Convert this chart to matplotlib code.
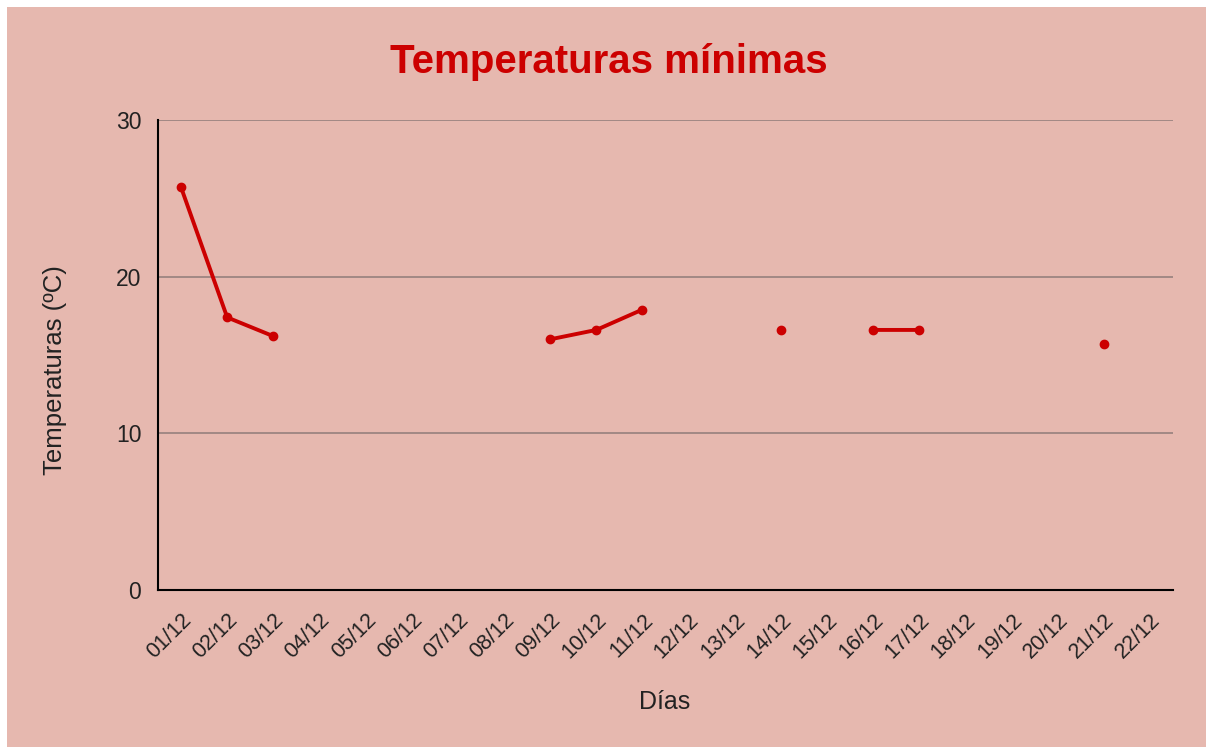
import numpy as np
import matplotlib
matplotlib.use("Agg")
import matplotlib.pyplot as plt
from matplotlib.patches import Rectangle

# datos
dias = ["%02d/12" % d for d in range(1, 23)]
temp_min = [25.7, 17.4, 16.2, np.nan, np.nan, np.nan, np.nan, np.nan,
            16.0, 16.6, 17.9, np.nan, np.nan, 16.6, np.nan, 16.6, 16.6,
            np.nan, np.nan, np.nan, 15.7, np.nan]
y_ticks = [0, 10, 20, 30]

plt.rcParams['font.family'] = ['Liberation Sans', 'DejaVu Sans']

bg = "#e6b8af"
rojo = "#cc0000"

fig = plt.figure(figsize=(12.06, 7.47), dpi=100, facecolor="white")
fig.patches.append(Rectangle((7 / 1206, 0), 1, 1 - 7 / 747, transform=fig.transFigure,
                             facecolor=bg, edgecolor="none", zorder=-1))
ax = fig.add_axes([158 / 1206, 1 - 590 / 747, (1173 - 158) / 1206, (590 - 120) / 747])
ax.set_facecolor(bg)

x = np.arange(len(dias))
ax.plot(x, temp_min, color=rojo, linewidth=2.8, marker="o", markersize=6,
        solid_capstyle="round", zorder=3)

ax.set_xlim(-0.5, len(dias) - 0.5)
ax.set_ylim(0, 30)
ax.set_yticks(y_ticks)
ax.set_xticks(x)
ax.set_xticklabels(dias, rotation=45, ha="right", va="top", rotation_mode="anchor",
                   fontsize=15.5, color="#222222")
ax.tick_params(axis="y", labelsize=16.5, labelcolor="#222222", length=0, pad=12)
ax.tick_params(axis="x", length=0, pad=14)
ax.grid(axis="y", color="#9c8481", linewidth=1.3)
ax.set_axisbelow(True)
for s in ["top", "right"]:
    ax.spines[s].set_visible(False)
for s in ["left", "bottom"]:
    ax.spines[s].set_color("black")
    ax.spines[s].set_linewidth(1.5)

fig.text(55 / 1206, 1 - 370 / 747, "Temperaturas (ºC)", fontsize=18.5, color="#222222",
         ha="center", va="center", rotation=90)
fig.text(665 / 1206, 1 - 702 / 747, "Días", fontsize=18, color="#222222",
         ha="center", va="center")
fig.text(609 / 1206, 1 - 62 / 747, "Temperaturas mínimas", fontsize=29,
         fontweight="bold", color=rojo, ha="center", va="center")

fig.savefig("out.png", dpi=100, facecolor=fig.get_facecolor())
